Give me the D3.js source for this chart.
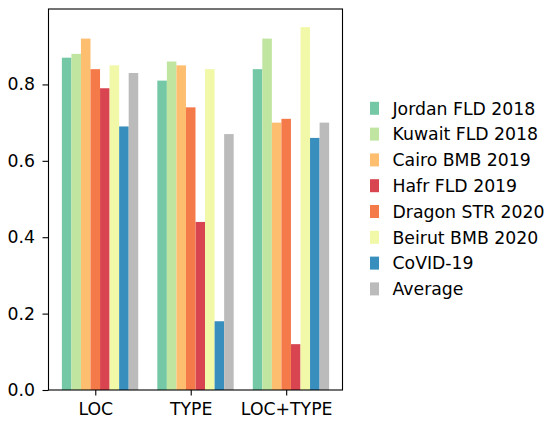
<!DOCTYPE html>
<html><head><meta charset="utf-8">
<script src="https://cdn.jsdelivr.net/npm/d3@7"></script>
<style>body{margin:0;background:#fff}svg{display:block;font-family:"DejaVu Sans",sans-serif}</style>
</head><body><svg id="c" width="548" height="421"></svg>
<script>
const categories = ["LOC", "TYPE", "LOC+TYPE"];
const seriesNames = ["Jordan FLD 2018", "Kuwait FLD 2018", "Cairo BMB 2019", "Hafr FLD 2019", "Dragon STR 2020", "Beirut BMB 2020", "CoVID-19", "Average"];
const seriesColors = ["#74c8a5", "#c0e5a0", "#fdbe70", "#d8444f", "#f57a4a", "#f1f8a8", "#388fbd", "#bbbbbb"];
const jordan = [0.87, 0.81, 0.84];
const kuwait = [0.88, 0.86, 0.92];
const cairo = [0.92, 0.85, 0.70];
const hafr = [0.79, 0.44, 0.12];
const dragon = [0.84, 0.74, 0.71];
const beirut = [0.85, 0.84, 0.95];
const covid = [0.69, 0.18, 0.66];
const average = [0.83, 0.67, 0.70];
const seriesValues = [jordan, kuwait, cairo, hafr, dragon, beirut, covid, average];
// bar slot within each group for each series (as drawn in the figure)
const barSlot = [0, 1, 2, 4, 3, 5, 6, 7];
const yTicks = [0.0, 0.2, 0.4, 0.6, 0.8];

const L = 48.5, R = 342.5, T = 9, B = 390;
const FS = 17.3;
const barW = 0.1;
const x = d3.scaleLinear().domain([-0.49, 2.59]).range([L, R]);
const y = d3.scaleLinear().domain([0, 0.9975]).range([B, T]);
const svg = d3.select("#c");

seriesValues.forEach((vals, s) => {
  svg.append("g").selectAll("rect").data(vals).join("rect")
    .attr("x", (d, i) => x(i + (barSlot[s] - 3) * barW - barW / 2))
    .attr("width", x(barW) - x(0))
    .attr("y", d => y(d))
    .attr("height", d => y(0) - y(d))
    .attr("fill", seriesColors[s]);
});

const xAxis = svg.append("g").attr("transform", `translate(0,${B})`)
  .call(d3.axisBottom(x).tickValues([0, 1, 2]).tickFormat(i => categories[i]).tickSize(5.5).tickPadding(7));
const yAxis = svg.append("g").attr("transform", `translate(${L},0)`)
  .call(d3.axisLeft(y).tickValues(yTicks).tickFormat(d3.format(".1f")).tickSize(6).tickPadding(7.5));
[xAxis, yAxis].forEach(a => {
  a.select(".domain").remove();
  a.selectAll("text").attr("font-size", FS).attr("fill", "#000").attr("font-family", "DejaVu Sans");
  a.selectAll("line").attr("stroke", "#000").attr("stroke-width", 1.1);
});
svg.append("rect").attr("x", L).attr("y", T).attr("width", R - L).attr("height", B - T)
  .attr("fill", "none").attr("stroke", "#000").attr("stroke-width", 1.1);

const lg = svg.append("g");
seriesNames.forEach((n, i) => {
  const cy = 108.3 + i * 25.8;
  lg.append("rect").attr("x", 370).attr("y", cy - 6.5).attr("width", 9).attr("height", 13).attr("fill", seriesColors[i]);
  lg.append("text").attr("x", 392.5).attr("y", cy).attr("dy", "0.36em").attr("font-size", FS).text(n);
});
</script></body></html>
